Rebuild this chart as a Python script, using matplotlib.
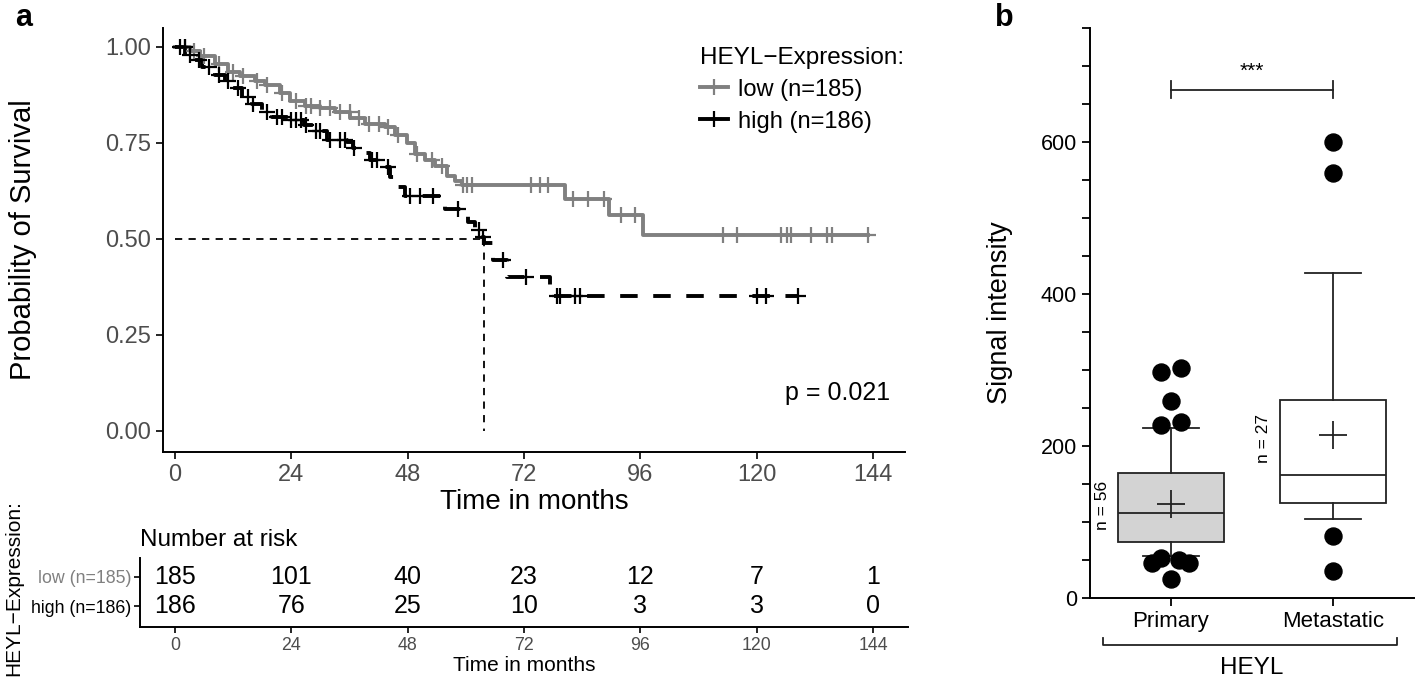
"""
Kaplan-Meier curve with risk table (a) and boxplot of HEYL signal (b)
"""

import numpy as np
import matplotlib.pyplot as plt
from matplotlib.lines import Line2D

plt.rcParams['font.family'] = ['Liberation Sans', 'DejaVu Sans']

# ---- data: Kaplan-Meier steps (months, survival) ----
low_t = [0, 3.1, 5.2, 8.3, 11, 13.4, 16.5, 18.6, 21.7, 23.7, 26.8, 29.9, 33, 36.1,
         39.2, 43.3, 45.4, 47.9, 49.5, 51.6, 53.6, 56.1, 57.8, 59.2, 80.5, 89.5, 96.6]
low_s = [1.0, 0.99, 0.975, 0.955, 0.935, 0.925, 0.91, 0.90, 0.88, 0.86, 0.845, 0.84,
         0.83, 0.815, 0.80, 0.79, 0.77, 0.75, 0.72, 0.705, 0.69, 0.665, 0.65, 0.64,
         0.604, 0.5625, 0.51]
low_end = 143
low_cens = [2, 4, 6, 9, 12, 14, 17, 19, 22, 25, 27, 28, 30, 32, 34, 36, 38, 40, 42,
            44, 46, 50, 53, 55, 59.4, 60.2, 61.3, 73.4, 75.3, 77, 82.1, 85.2, 88.5,
            92, 95, 113, 116, 125, 126.3, 127, 131.2, 134.5, 135.5, 143]

high_t = [0, 2.1, 4.1, 5.6, 8.3, 10.3, 11.8, 13.8, 15.9, 17.9, 20, 23.5, 26.6, 28.9,
          31.4, 35.5, 36.7, 38.2, 40.2, 42.3, 44.3, 46, 47.4, 55.7, 60.4, 61.9, 63.2,
          63.8, 65.6, 68.5, 77.4]
high_s = [1.0, 0.98, 0.966, 0.948, 0.927, 0.91, 0.893, 0.87, 0.85, 0.83, 0.818, 0.81,
          0.797, 0.78, 0.758, 0.753, 0.737, 0.724, 0.706, 0.688, 0.661, 0.635, 0.612,
          0.578, 0.544, 0.523, 0.505, 0.49, 0.445, 0.40, 0.352]
high_end = 128.5
high_cens = [1, 2, 3, 5, 7, 9, 11, 13, 15, 16, 19, 21, 22, 24, 25, 26, 27, 29, 30, 32,
             34, 35, 37, 40.6, 41.7, 44, 48.5, 50.5, 53.2, 58.4, 62.7, 63.5, 67.7, 72.4,
             78.8, 79.4, 82.5, 83.6, 120, 122, 128.5]

median_high = 63.7
p_text = "p = 0.021"

risk_times = [0, 24, 48, 72, 96, 120, 144]
risk_low = [185, 101, 40, 23, 12, 7, 1]
risk_high = [186, 76, 25, 10, 3, 3, 0]
group_labels = ["low (n=185)", "high (n=186)"]

# ---- data: boxplot statistics ----
box_names = ["Primary", "Metastatic"]
box_q1 = [74, 125]
box_med = [112, 162]
box_q3 = [164, 261]
box_whislo = [55, 104]
box_whishi = [224, 428]
box_mean = [124, 214]
box_n = [56, 27]
prim_out_x = [0.94, 1.06, 1.0, 0.94, 1.06, 0.88, 0.94, 1.05, 1.11, 1.0]
prim_out_y = [297, 302, 259, 227, 232, 46, 53, 50, 46, 25]
meta_out_x = [2.0, 2.0, 2.0, 2.0]
meta_out_y = [600, 559, 82, 36]

W, H = 1418, 681
GRAY = "#808080"
TICKC = "#4D4D4D"


def px_axes(fig, x0, y0, x1, y1):
    # axes from pixel box (left, top, right, bottom)
    return fig.add_axes([x0 / W, 1 - y1 / H, (x1 - x0) / W, (y1 - y0) / H])


def step_xy(t, s, end):
    return list(t) + [end], list(s) + [s[-1]]


def surv_at(t, s, x):
    idx = np.searchsorted(t, x, side='right') - 1
    return np.array(s)[idx]


fig = plt.figure(figsize=(W / 100, H / 100), dpi=100)

# ---- KM plot ----
ax = px_axes(fig, 163, 28, 905, 452)
ax.set_xlim(-2.48, 150.6)
ax.set_ylim(-0.0547, 1.049)

lx, ly = step_xy(low_t, low_s, low_end)
hx, hy = step_xy(high_t, high_s, high_end)
ax.step(lx, ly, where='post', color=GRAY, lw=2.8)
ax.step(hx, hy, where='post', color='black', lw=2.8, dashes=(4.5, 4))
ax.plot(low_cens, surv_at(low_t, low_s, low_cens), ls='none', marker='+',
        ms=11, mew=1.6, color=GRAY)
ax.plot(high_cens, surv_at(high_t, high_s, high_cens), ls='none', marker='+',
        ms=11, mew=1.6, color='black')

# median line
ax.plot([0, median_high], [0.5, 0.5], color='black', lw=1.3, dashes=(4, 3.5))
ax.plot([median_high, median_high], [0.5, 0], color='black', lw=1.3, dashes=(4, 3.5))

ax.set_xticks(risk_times)
ax.set_yticks([0, 0.25, 0.5, 0.75, 1.0])
ax.set_yticklabels(["0.00", "0.25", "0.50", "0.75", "1.00"])
ax.tick_params(labelsize=17, length=5, width=1.2, labelcolor=TICKC)
for side in ['top', 'right']:
    ax.spines[side].set_visible(False)
for side in ['left', 'bottom']:
    ax.spines[side].set_linewidth(1.4)
ax.set_xlabel("Time in months", fontsize=20, labelpad=2)
ax.set_ylabel("Probability of Survival", fontsize=21)
ax.yaxis.set_label_coords(-0.17, 0.5)
ax.text(147.5, 0.1, p_text, fontsize=18, ha='right', va='center')

handles = [Line2D([], [], color=GRAY, lw=2.8, marker='+', ms=11, mew=1.6),
           Line2D([], [], color='black', lw=2.8, marker='+', ms=11, mew=1.6)]
leg = ax.legend(handles, group_labels, title="HEYL\u2212Expression:", loc='upper left',
                bbox_to_anchor=(0.695, 1.006), frameon=False, fontsize=17,
                title_fontsize=17.5, handlelength=1.2, handletextpad=0.4,
                labelspacing=0.42)
leg._legend_box.align = 'left'

fig.text(15 / W, 1 - 18 / H, "a", fontsize=22, fontweight='bold', va='center')

# ---- risk table ----
ar = px_axes(fig, 140, 558, 908, 627)
ar.set_xlim(-7.2, 151.2)
ar.set_ylim(0, 1)
for t, a, b in zip(risk_times, risk_low, risk_high):
    ar.text(t, 0.725, str(a), ha='center', va='center', fontsize=18)
    ar.text(t, 0.30, str(b), ha='center', va='center', fontsize=18)
ar.set_xticks(risk_times)
ar.set_yticks([0.725, 0.30])
ar.set_yticklabels(group_labels)
ar.get_yticklabels()[0].set_color(GRAY)
ar.get_yticklabels()[1].set_color('black')
ar.tick_params(axis='y', labelsize=12.8, length=4, width=1.2, pad=2)
ar.tick_params(axis='x', labelsize=12.8, length=4, width=1.2, labelcolor=TICKC)
for side in ['top', 'right']:
    ar.spines[side].set_visible(False)
for side in ['left', 'bottom']:
    ar.spines[side].set_linewidth(1.4)
ar.set_xlabel("Time in months", fontsize=15, labelpad=1)
ar.set_title("Number at risk", fontsize=17.5, loc='left', pad=9, x=0)
fig.text(14 / W, 1 - 588 / H, "HEYL\u2212Expression:", fontsize=15, rotation=90,
         ha='center', va='center')

# ---- boxplot ----
ab = px_axes(fig, 1090, 28, 1414, 598)
stats = []
for i in range(2):
    stats.append(dict(med=box_med[i], q1=box_q1[i], q3=box_q3[i],
                      whislo=box_whislo[i], whishi=box_whishi[i],
                      mean=box_mean[i], fliers=[]))
bp = ab.bxp(stats, positions=[1, 2], widths=0.66, patch_artist=True, showmeans=True,
            showfliers=False,
            boxprops=dict(lw=1.3, edgecolor='#222222'),
            medianprops=dict(color='#222222', lw=1.3),
            whiskerprops=dict(color='#222222', lw=1.3),
            capprops=dict(color='#222222', lw=1.3),
            meanprops=dict(marker='+', markersize=20, markeredgewidth=1.3,
                           markeredgecolor='#222222'),
            capwidths=0.34)
bp['boxes'][0].set_facecolor('#D3D3D3')
bp['boxes'][1].set_facecolor('white')
ab.scatter(prim_out_x, prim_out_y, s=150, color='black', zorder=3)
ab.scatter(meta_out_x, meta_out_y, s=150, color='black', zorder=3)

ab.text(0.58, box_med[0] + 10, f"n = {box_n[0]}", rotation=90, ha='center',
        va='center', fontsize=12.5)
ab.text(1.57, 210, f"n = {box_n[1]}", rotation=90, ha='center', va='center',
        fontsize=12.5)

ab.set_xlim(0.5, 2.5)
ab.set_ylim(0, 750)
ab.set_yticks(np.arange(0, 751, 50), minor=True)
ab.set_yticks([0, 200, 400, 600])
ab.set_xticks([1, 2])
ab.set_xticklabels(box_names)
ab.tick_params(axis='y', which='major', labelsize=15.5, length=6, width=1.3)
ab.tick_params(axis='x', which='major', labelsize=16, length=6, width=1.3)
ab.tick_params(axis='y', which='minor', length=6, width=1.3)
for side in ['top', 'right']:
    ab.spines[side].set_visible(False)
for side in ['left', 'bottom']:
    ab.spines[side].set_linewidth(1.4)
ab.set_ylabel("Signal intensity", fontsize=19.5, labelpad=20)

# significance bracket
ab.plot([1, 2], [669, 669], color='#222222', lw=1.3)
ab.plot([1, 1], [658, 680], color='#222222', lw=1.3)
ab.plot([2, 2], [658, 680], color='#222222', lw=1.3)
ab.text(1.5, 681, "***", ha='center', va='bottom', fontsize=15)

# group bracket below axis
ab.plot([0.58, 0.58, 2.395, 2.395], [-53, -62, -62, -53], color='#222222', lw=1.3,
        clip_on=False)
ab.text(1.5, -92, "HEYL", ha='center', va='center', fontsize=17.5)

fig.text(995 / W, 1 - 18 / H, "b", fontsize=22, fontweight='bold', va='center')

fig.savefig("out.png", dpi=100)
